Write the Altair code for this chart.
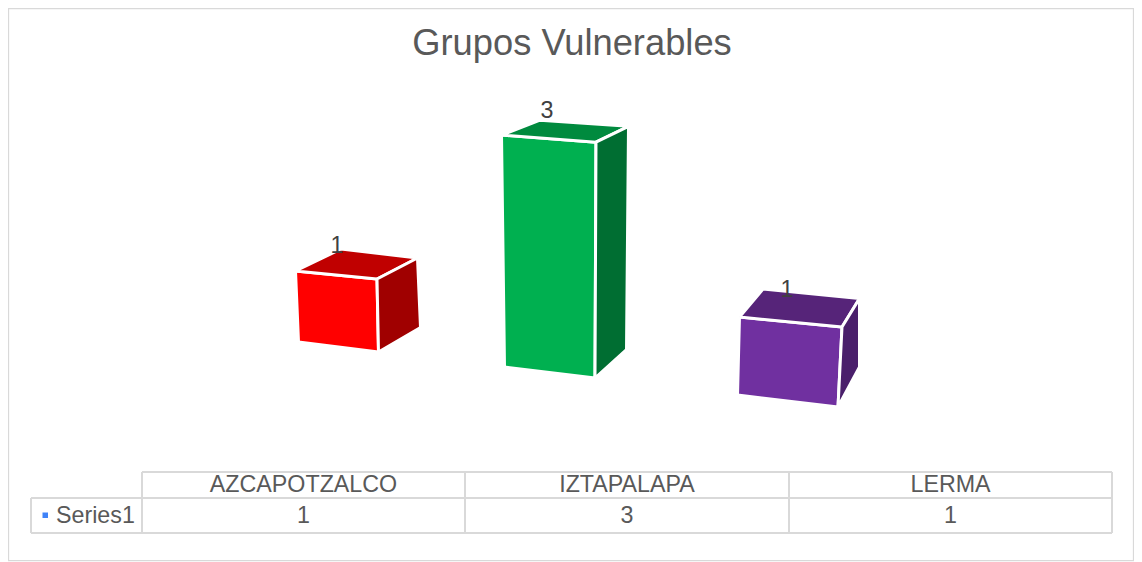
import altair as alt
import pandas as pd

# ---- chart values ----
TITLE = "Grupos Vulnerables"
SERIES = "Series1"
CATEGORIES = ["AZCAPOTZALCO", "IZTAPALAPA", "LERMA"]
VALUES = [1, 3, 1]
FRONT = ["#FF0000", "#00B050", "#7030A0"]
TOP = ["#C00000", "#008A3E", "#562479"]
SIDE = ["#A00000", "#006E32", "#4A1F6B"]

# ---- 3D layout: floor corners of each box in page pixels and the lift per unit of value ----
FLOOR = {
    "fl": [(298.5, 342), (504.5, 367), (737.5, 395)],
    "fr": [(378.5, 352), (595, 378), (838, 407)],
    "br": [(420.5, 327.5), (626.5, 349.5), (859.5, 367)],
    "bl": [(344, 320), (541, 344), (763, 367)],
}
LIFT = {
    "fl": [(-3, -71), (-1, -77.3), (2, -78), ],
    "fr": [(-1.5, -73), (0.33, -78.6), (4, -80)],
    "br": [(-3, -69.5), (0.67, -74.4), (0, -68.5)],
    "bl": [(-3, -71), (-0.33, -74.6), (0, -78)],
}
LABEL_SHIFT = [(-4, -3), (7, -9), (24, 1)]

PAGE_W, PAGE_H = 1126, 554
OFF = 8


def corner(name, i, top):
    x, y = FLOOR[name][i]
    if top:
        dx, dy = LIFT[name][i]
        x += dx * VALUES[i]
        y += dy * VALUES[i]
    return x - OFF, y - OFF


faces = []
labels = []
for i, cat in enumerate(CATEGORIES):
    shapes = [
        ("front", FRONT[i], [("fl", 0), ("fr", 0), ("fr", 1), ("fl", 1)]),
        ("top", TOP[i], [("fl", 1), ("fr", 1), ("br", 1), ("bl", 1)]),
        ("side", SIDE[i], [("fr", 0), ("br", 0), ("br", 1), ("fr", 1)]),
    ]
    for face, color, verts in shapes:
        for k, (c, t) in enumerate(verts + verts[:1]):
            px, py = corner(c, i, t)
            faces.append({"face": f"{cat}-{face}", "fill": color, "x": px, "y": py, "k": k})
    bx, by = corner("bl", i, 1)
    labels.append({"x": bx + LABEL_SHIFT[i][0], "y": by + LABEL_SHIFT[i][1], "t": str(VALUES[i])})

X = alt.X("x:Q", scale=alt.Scale(domain=[0, PAGE_W], range=[0, PAGE_W]), axis=None)
Y = alt.Y("y:Q", scale=alt.Scale(domain=[PAGE_H, 0], range=[PAGE_H, 0]), axis=None)
X2 = alt.X2("x2:Q")
Y2 = alt.Y2("y2:Q")

FONT = "Liberation Sans"
INK = "#595959"
GRID = "#D9D9D9"

# table geometry
col_x = [142, 465, 789, 1112]
row_y = [472, 498, 533]
sx = 31
o = OFF

h_rules = pd.DataFrame([
    {"x": col_x[0] - o, "x2": col_x[3] - o, "y": row_y[0] - o, "y2": row_y[0] - o},
    {"x": sx - o, "x2": col_x[3] - o, "y": row_y[1] - o, "y2": row_y[1] - o},
    {"x": sx - o, "x2": col_x[3] - o, "y": row_y[2] - o, "y2": row_y[2] - o},
    {"x": sx - o, "x2": sx - o, "y": row_y[1] - o, "y2": row_y[2] - o},
] + [
    {"x": c - o, "x2": c - o, "y": row_y[0] - o, "y2": row_y[2] - o} for c in col_x
])

table_rules = alt.Chart(h_rules).mark_rule(color=GRID, strokeWidth=2).encode(x=X, x2=X2, y=Y, y2=Y2)

table_text = []
for i, cat in enumerate(CATEGORIES):
    cx = (col_x[i] + col_x[i + 1]) / 2 - o
    table_text.append({"x": cx, "y": (row_y[0] + row_y[1]) / 2 - o, "t": cat})
    table_text.append({"x": cx, "y": (row_y[1] + row_y[2]) / 2 - o, "t": str(VALUES[i])})
table_layer = alt.Chart(pd.DataFrame(table_text)).mark_text(
    font=FONT, fontSize=23.25, color=INK, align="center", baseline="middle"
).encode(x=X, y=Y, text="t:N")

series_label = alt.Chart(pd.DataFrame([{"x": 56 - o, "y": 515.5 - o, "t": SERIES}])).mark_text(
    font=FONT, fontSize=23.25, color=INK, align="left", baseline="middle"
).encode(x=X, y=Y, text="t:N")

series_key = alt.Chart(pd.DataFrame([{"x": 42.5 - o, "x2": 48 - o, "y": 512.5 - o, "y2": 518 - o}])).mark_rect(
    color="#3F83F8"
).encode(x=X, x2=X2, y=Y, y2=Y2)

border = alt.Chart(pd.DataFrame([{"x": 0.5, "x2": PAGE_W - 0.5, "y": 0.5, "y2": 560.5 - o}])).mark_rect(
    fill="#FFFFFF", stroke=GRID, strokeWidth=1.25
).encode(x=X, x2=X2, y=Y, y2=Y2)

boxes = alt.Chart(pd.DataFrame(faces)).mark_line(stroke="#FFFFFF", strokeWidth=3, strokeJoin="round").encode(
    x=X, y=Y, order="k:Q", detail="face:N",
    fill=alt.Fill("fill:N", scale=None, legend=None),
)

value_labels = alt.Chart(pd.DataFrame(labels)).mark_text(
    font=FONT, fontSize=23.25, color="#404040", align="center", baseline="middle"
).encode(x=X, y=Y, text="t:N")

chart = alt.layer(
    border, boxes, value_labels, table_rules, table_layer, series_key, series_label
).properties(
    width=PAGE_W,
    height=PAGE_H,
    padding=0,
    autosize=alt.AutoSizeParams(type="none"),
    background="#FFFFFF",
    title=alt.TitleParams(
        TITLE, font=FONT, fontSize=36.3, fontWeight="normal", color=INK,
        anchor="middle", frame="group", baseline="middle", dy=72.5, dx=1, offset=0,
    ),
).configure_view(stroke=None)

chart.save("out.html", embed_options={"renderer": "svg", "actions": False})
